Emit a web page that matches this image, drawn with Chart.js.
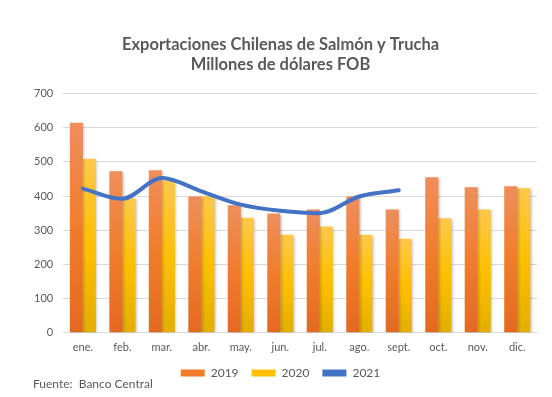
<!DOCTYPE html>
<html><head><meta charset="utf-8">
<script src="https://cdn.jsdelivr.net/npm/chart.js@4/dist/chart.umd.min.js"></script>
<style>
html,body{margin:0;padding:0;background:#fff}
#wrap{position:relative;width:552px;height:397px}
#src{position:absolute;left:33px;top:376px;font:12px Lato, sans-serif;color:#595959;white-space:pre}
</style>
</head><body>
<div id="wrap"><canvas id="c" width="552" height="397"></canvas><div id="src">Fuente:  Banco Central</div></div>
<script>
const categories = ['ene.','feb.','mar.','abr.','may.','jun.','jul.','ago.','sept.','oct.','nov.','dic.'];
const exp2019 = [615,473,476,399,373,349,361,399,361,455,426,429];
const exp2020 = [509,394,445,400,337,287,311,287,275,335,361,423];
const exp2021 = [422,392,453,414,375,357,350,399,417,null,null,null];
const seriesNames = ['2019','2020','2021'];
const titleLines = ['Exportaciones Chilenas de Salmón y Trucha','Millones de dólares FOB'];

function barGrad(stops){
  return function(ctx){
    const chart = ctx.chart;
    if(!chart.chartArea || ctx.parsed === undefined || ctx.parsed === null) return stops[1];
    const ys = chart.scales.y;
    const top = ys.getPixelForValue(ctx.parsed.y);
    const bottom = ys.getPixelForValue(0);
    if(!isFinite(top) || !isFinite(bottom) || top === bottom) return stops[1];
    const g = chart.ctx.createLinearGradient(0, top, 0, bottom);
    g.addColorStop(0, stops[0]);
    g.addColorStop(0.5, stops[1]);
    g.addColorStop(1, stops[2]);
    return g;
  };
}
const orange = ['#EF8E5C','#F07D2B','#E4691F'];
const yellow = ['#FFC84C','#FFC000','#E3AE00'];

const shadowPlugin = {
  id:'barShadow',
  beforeDatasetDraw(chart, args){
    if(chart.data.datasets[args.index].type === 'bar'){
      const c = chart.ctx; c.save();
      c.shadowColor='rgba(0,0,0,0.28)'; c.shadowBlur=3; c.shadowOffsetX=1.5; c.shadowOffsetY=1;
    }
  },
  afterDatasetDraw(chart, args){
    if(chart.data.datasets[args.index].type === 'bar'){ chart.ctx.restore(); }
  }
};

new Chart(document.getElementById('c'), {
  data:{
    labels: categories,
    datasets:[
      {type:'bar', label:seriesNames[0], data:exp2019, backgroundColor:barGrad(orange), order:2, categoryPercentage:0.66, barPercentage:1},
      {type:'bar', label:seriesNames[1], data:exp2020, backgroundColor:barGrad(yellow), order:2, categoryPercentage:0.66, barPercentage:1},
      {type:'line', label:seriesNames[2], data:exp2021, borderColor:'#4472C4', backgroundColor:'#4472C4', borderWidth:4, pointRadius:0, tension:0.4, cubicInterpolationMode:'monotone', order:0, borderCapStyle:'round', spanGaps:false}
    ]
  },
  options:{
    responsive:false, animation:false,
    layout:{padding:{left:24,right:15,top:12,bottom:8}},
    plugins:{
      title:{display:true, text:titleLines, color:'#595959', font:{family:'Lato', size:16.5, weight:'bold'}, padding:{top:23,bottom:19}, lineHeight:1.35},
      legend:{position:'bottom', labels:{boxWidth:24, boxHeight:7, color:'#595959', font:{family:'Lato', size:12}, padding:13,
        generateLabels(chart){
          return chart.data.datasets.map((d,i)=>({text:d.label, fillStyle: i===0?orange[1]:(i===1?yellow[1]:'#4472C4'), strokeStyle:'rgba(0,0,0,0)', lineWidth:0, datasetIndex:i, fontColor:'#595959'}));
        }}},
      tooltip:{enabled:false}
    },
    scales:{
      x:{grid:{display:false}, border:{color:'#D9D9D9'}, ticks:{color:'#595959', font:{family:'Lato', size:11}, padding:0}},
      y:{min:0, max:700, ticks:{stepSize:100, color:'#595959', font:{family:'Lato', size:11}, padding:10}, grid:{color:'#D9D9D9', drawTicks:false}, border:{display:false}}
    }
  },
  plugins:[shadowPlugin]
});
</script>
</body></html>
